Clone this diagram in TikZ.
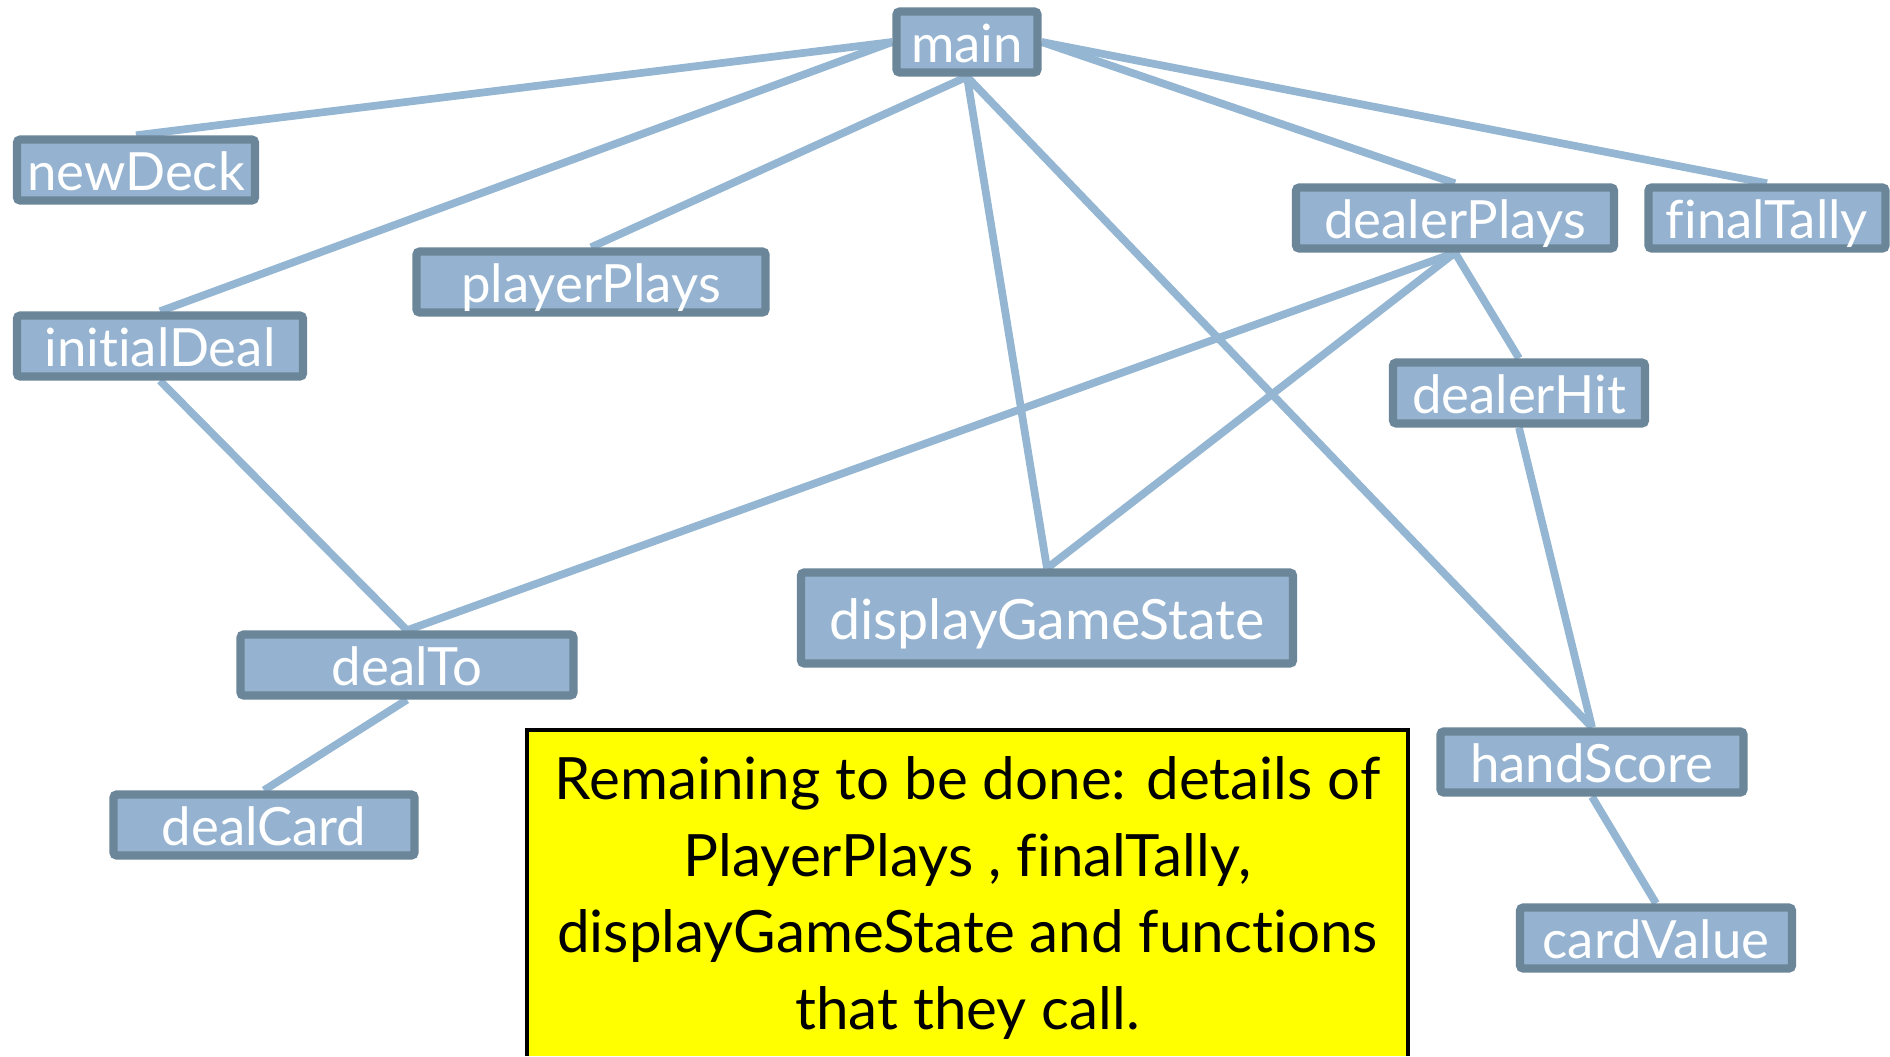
\documentclass[tikz,border=0pt]{standalone}
\usepackage{fontspec}
\setmainfont{Lato}[Ligatures=NoCommon]
\usepackage{tikz}
\usetikzlibrary{backgrounds}
\definecolor{boxfill}{RGB}{149,179,208}
\definecolor{boxline}{RGB}{107,133,153}
\definecolor{wire}{RGB}{148,182,210}
\definecolor{notefill}{RGB}{255,255,0}

\begin{document}
\begin{tikzpicture}[fn/.style={draw=boxline, line width=2.4pt, fill=boxfill,
                        rounded corners=1pt, text=white, inner sep=0pt,
                        minimum height=0.61cm, text height=11.5pt, text depth=0pt,
                        font=\fontsize{15pt}{17pt}\selectfont},
                    call/.style={draw=wire, line width=2.2pt}]
    \useasboundingbox (0,0) rectangle (18.9,-10.56);
    % function boxes
    \node[fn, minimum width=1.41cm] (main) at (9.67,-0.42) {main};
    \node[fn, minimum width=2.38cm] (newDeck) at (1.36,-1.70) {newDeck};
    \node[fn, minimum width=3.49cm] (playerPlays) at (5.91,-2.82) {playerPlays};
    \node[fn, minimum width=2.86cm] (initialDeal) at (1.60,-3.46) {initialDeal};
    \node[fn, minimum width=3.18cm] (dealerPlays) at (14.55,-2.18) {dealerPlays};
    \node[fn, minimum width=2.37cm] (finalTally) at (17.67,-2.18) {finalTally};
    \node[fn, minimum width=2.52cm] (dealerHit) at (15.19,-3.93) {dealerHit};
    \node[fn, minimum width=4.92cm, minimum height=0.91cm, text height=12.2pt,
          font=\fontsize{15.8pt}{18pt}\selectfont] (displayGameState) at (10.47,-6.18) {displayGameState};
    \node[fn, minimum width=3.33cm] (dealTo) at (4.07,-6.65) {dealTo};
    \node[fn, minimum width=3.01cm] (dealCard) at (2.64,-8.25) {dealCard};
    \node[fn, minimum width=3.03cm] (handScore) at (15.92,-7.62) {handScore};
    \node[fn, minimum width=2.72cm] (cardValue) at (16.56,-9.38) {cardValue};

    % calls
    \begin{pgfonlayer}{background}
        \draw[call] (main.west) -- (newDeck.north);
        \draw[call] (main.west) -- (initialDeal.north);
        \draw[call] (main.south) -- (playerPlays.north);
        \draw[call] (main.south) -- (displayGameState.north);
        \draw[call] (main.south) -- (handScore.north);
        \draw[call] (main.east) -- (dealerPlays.north);
        \draw[call] (main.east) -- (finalTally.north);
        \draw[call] (dealerPlays.south) -- (dealTo.north);
        \draw[call] (dealerPlays.south) -- (displayGameState.north);
        \draw[call] (dealerPlays.south) -- (dealerHit.north);
        \draw[call] (dealerHit.south) -- (handScore.north);
        \draw[call] (initialDeal.south) -- (dealTo.north);
        \draw[call] (dealTo.south) -- (dealCard.north);
        \draw[call] (handScore.south) -- (cardValue.north);
    \end{pgfonlayer}

    % note
    \coordinate (noteNW) at (5.27,-7.30);
    \coordinate (noteSE) at (14.08,-10.56);
    \fill[notefill] (noteNW) rectangle (noteSE);
    \draw[black, line width=0.9pt] (noteNW |- noteSE) -- (noteNW) -- (noteSE |- noteNW) -- (noteSE);
    \node[align=center, inner sep=0pt, font=\fontsize{16.6pt}{21.9pt}\selectfont] (note) at (9.675,-8.98)
        {Remaining to be done: details of\\ PlayerPlays , finalTally,\\ displayGameState and functions\\ that they call.};
\end{tikzpicture}
\end{document}
